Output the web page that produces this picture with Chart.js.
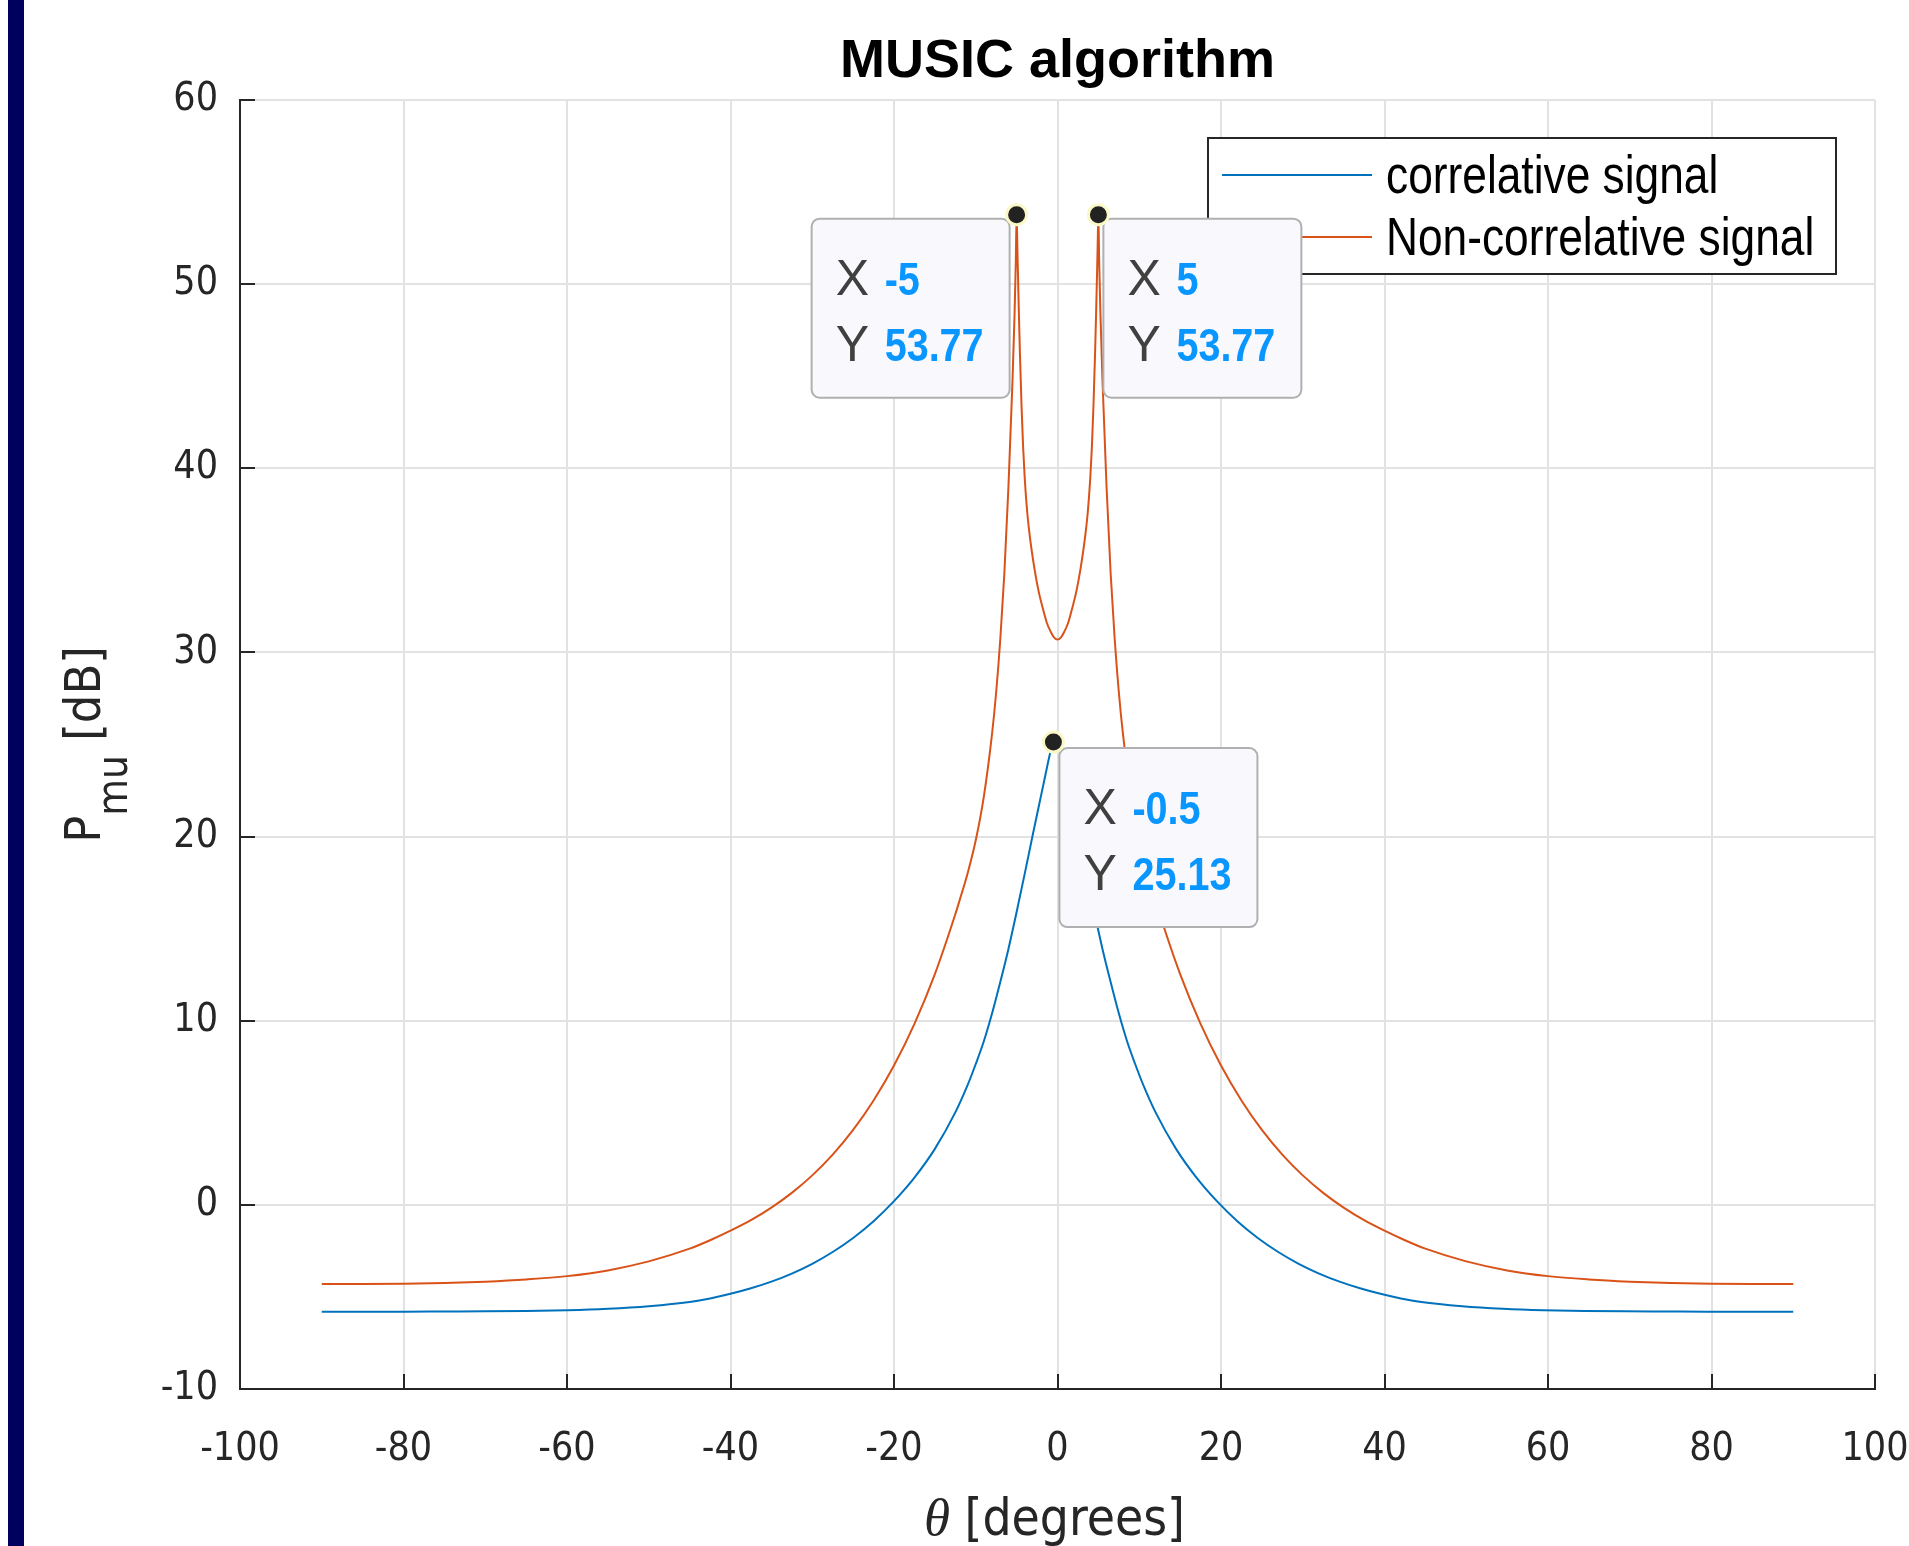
<!DOCTYPE html>
<html><head><meta charset="utf-8">
<script src="https://cdn.jsdelivr.net/npm/chart.js@4.4.1/dist/chart.umd.min.js"></script>
<style>
html,body{margin:0;padding:0;background:#fff;}
#wrap{position:relative;width:1909px;height:1546px;overflow:hidden;background:#fff;}
#bar{position:absolute;left:8px;top:0;width:16px;height:1546px;background:#00005f;}
canvas{position:absolute;left:0;top:0;}
</style></head><body>
<div id="wrap"><canvas id="c" width="1909" height="1546"></canvas><div id="bar"></div></div>
<script>
// ---- data ----
const seriesNames = ['correlative signal', 'Non-correlative signal'];
const thetaCorr = [-90,-85,-80,-75,-70,-65,-60,-55,-50,-45,-42.5,-40,-37.5,-35,-32.5,-30,-27.5,-25,-22.5,-20,-17.5,-15,-12.5,-11,-10,-9,-8,-7,-6,-5,-4,-3,-2,-1.5,-1,-0.75,-0.5,
  0.25,0.5,1,1.5,2.5,3.5,4.5,5.5,6.5,7.5,8.5,9.5,10.5,12,14.5,17,19.5,22,24.5,27,29.5,32,34.5,37,39.5,42,44.5,49.5,54.5,59.5,64.5,69.5,74.5,79.5,84.5,90];
const pCorr = [-5.80,-5.80,-5.80,-5.79,-5.78,-5.76,-5.72,-5.64,-5.50,-5.27,-5.08,-4.83,-4.53,-4.17,-3.73,-3.20,-2.56,-1.80,-0.89,0.20,1.48,3.04,5.02,6.50,7.65,8.90,10.40,12.10,13.90,15.90,18.00,20.15,22.25,23.30,24.35,24.80,25.13,
  24.80,24.35,23.30,22.25,20.15,18.00,15.90,13.90,12.10,10.40,8.90,7.65,6.50,5.02,3.04,1.48,0.20,-0.89,-1.80,-2.56,-3.20,-3.73,-4.17,-4.53,-4.83,-5.08,-5.27,-5.50,-5.64,-5.72,-5.76,-5.78,-5.79,-5.80,-5.80,-5.80];
const thetaNon = [-90,-85,-80,-75,-70,-65,-60,-55,-50,-45,-42.5,-40,-37.5,-35,-32.5,-30,-27.5,-25,-22.5,-20,-17.5,-15,-12.5,-12,-11,-10,-9,-8,-7.5,-7,-6.5,-6,-5.5,-5.25,-5.1,-5,
  -4.9,-4.75,-4.6,-4.4,-4.2,-4,-3.7,-3.3,-2.8,-2.3,-1.8,-1.3,-0.8,-0.4,0,
  0.4,0.8,1.3,1.8,2.3,2.8,3.3,3.7,4,4.2,4.4,4.6,4.75,4.9,5,5.1,5.25,5.5,6,6.5,7,7.5,8,9,10,11,12,12.5,15,17.5,20,22.5,25,27.5,30,32.5,35,37.5,40,42.5,45,50,55,60,65,70,75,80,85,90];
const pNon = [-4.30,-4.30,-4.29,-4.25,-4.17,-4.05,-3.87,-3.56,-3.07,-2.38,-1.92,-1.40,-0.83,-0.15,0.65,1.60,2.73,4.07,5.67,7.57,9.83,12.53,15.78,16.50,18.00,19.80,22.20,25.60,27.85,30.70,34.30,39.00,44.80,48.40,51.20,53.77,
  51.80,48.90,46.30,43.40,41.10,39.40,37.60,36.00,34.50,33.30,32.40,31.60,31.10,30.80,30.70,
  30.80,31.10,31.60,32.40,33.30,34.50,36.00,37.60,39.40,41.10,43.40,46.30,48.90,51.80,53.77,51.20,48.40,44.80,39.00,34.30,30.70,27.85,25.60,22.20,19.80,18.00,16.50,15.78,12.53,9.83,7.57,5.67,4.07,2.73,1.60,0.65,-0.15,-0.83,-1.40,-1.92,-2.38,-3.07,-3.56,-3.87,-4.05,-4.17,-4.25,-4.29,-4.30,-4.30];
const xTickMin = -100, xTickMax = 100, xTickStep = 20;
const yTickMin = -10, yTickMax = 60, yTickStep = 10;
const tipX = [-5, 5, -0.5];
const tipY = [53.77, 53.77, 25.13];
const titleText = 'MUSIC algorithm';
const xTitleSymbol = 'θ', xTitleText = ' [degrees]';
const yTitleMain = 'P', yTitleSub = 'mu', yTitleRest = ' [dB]';

// ---- styles / layout ----
const BLUE = '#0072BD', ORANGE = '#D95319', AXIS = '#262626';
const tickFont = '"DejaVu Sans Condensed", "DejaVu Sans", sans-serif';
const sansFont = '"Liberation Sans", Arial, sans-serif';
const tipLayout = [{side:'left', dx:-7, dy:4}, {side:'right', dx:5, dy:4}, {side:'right', dx:6, dy:6}];

function toPts(xs, ys){ return xs.map((v,i)=>({x:v, y:ys[i]})); }

function rrect(ctx, x, y, w, h, r){
  ctx.beginPath();
  ctx.moveTo(x+r, y); ctx.lineTo(x+w-r, y); ctx.arcTo(x+w, y, x+w, y+r, r);
  ctx.lineTo(x+w, y+h-r); ctx.arcTo(x+w, y+h, x+w-r, y+h, r);
  ctx.lineTo(x+r, y+h); ctx.arcTo(x, y+h, x, y+h-r, r);
  ctx.lineTo(x, y+r); ctx.arcTo(x, y, x+r, y, r); ctx.closePath();
}
function narrowText(ctx, s, x, y, sx){
  ctx.save(); ctx.translate(x, y); ctx.scale(sx, 1); ctx.fillText(s, 0, 0); ctx.restore();
}

const decor = {
  id: 'decor',
  afterDraw(chart){
    const {ctx, chartArea:a, scales:{x, y}} = chart;
    ctx.save();
    // inward tick marks
    ctx.strokeStyle = AXIS; ctx.lineWidth = 2;
    x.ticks.forEach(t => { const p = Math.round(x.getPixelForValue(t.value)); ctx.beginPath(); ctx.moveTo(p, a.bottom); ctx.lineTo(p, a.bottom - 15); ctx.stroke(); });
    y.ticks.forEach(t => { const p = Math.round(y.getPixelForValue(t.value)); ctx.beginPath(); ctx.moveTo(a.left, p); ctx.lineTo(a.left + 15, p); ctx.stroke(); });

    // title
    const cx = (a.left + a.right) / 2;
    ctx.fillStyle = '#000'; ctx.textAlign = 'center'; ctx.textBaseline = 'alphabetic';
    ctx.font = 'bold 54px ' + sansFont;
    ctx.fillText(titleText, cx, 77);

    // x title
    ctx.fillStyle = AXIS;
    ctx.font = 'italic 53px "Liberation Serif", serif';
    const wS = ctx.measureText(xTitleSymbol).width;
    ctx.font = '51px ' + tickFont;
    const wT = ctx.measureText(xTitleText).width;
    const sx = cx - (wS + wT) / 2 - 3;
    ctx.textAlign = 'left';
    ctx.font = 'italic 53px "Liberation Serif", serif'; ctx.fillText(xTitleSymbol, sx, 1535);
    ctx.font = '51px ' + tickFont; ctx.fillText(xTitleText, sx + wS, 1535);

    // y title (rotated)
    ctx.font = '50px ' + tickFont; const wP = ctx.measureText(yTitleMain).width; const wR = ctx.measureText(yTitleRest).width;
    ctx.font = '42px ' + tickFont; const wM = ctx.measureText(yTitleSub).width;
    const tot = wP + wM + wR;
    const cy = (a.top + a.bottom) / 2;
    ctx.save();
    ctx.translate(100, cy + tot / 2);
    ctx.rotate(-Math.PI / 2);
    ctx.textAlign = 'left';
    ctx.font = '50px ' + tickFont; ctx.fillText(yTitleMain, 0, 0);
    ctx.font = '42px ' + tickFont; ctx.fillText(yTitleSub, wP, 27);
    ctx.font = '50px ' + tickFont; ctx.fillText(yTitleRest, wP + wM, 0);
    ctx.restore();

    // legend
    const lx = 1208, ly = 138, lw = 628, lh = 136;
    ctx.fillStyle = '#fff'; ctx.fillRect(lx, ly, lw, lh);
    ctx.strokeStyle = AXIS; ctx.lineWidth = 2; ctx.strokeRect(lx, ly, lw, lh);
    const rowY = [175, 237];
    const cols = [BLUE, ORANGE];
    ctx.font = '54px ' + sansFont; ctx.textAlign = 'left'; ctx.textBaseline = 'alphabetic';
    seriesNames.forEach((n, i) => {
      ctx.strokeStyle = cols[i]; ctx.lineWidth = 2;
      ctx.beginPath(); ctx.moveTo(lx + 14, rowY[i]); ctx.lineTo(lx + 164, rowY[i]); ctx.stroke();
      ctx.fillStyle = '#000'; narrowText(ctx, n, lx + 178, rowY[i] + 18, 0.82);
    });

    // data tips
    const W = 198, H = 179;
    const pts = tipX.map((tx, i) => ({px: x.getPixelForValue(tx), py: y.getPixelForValue(tipY[i])}));
    pts.forEach((p, i) => {
      const L = tipLayout[i];
      const bx = L.side === 'left' ? p.px + L.dx - W : p.px + L.dx;
      const by = p.py + L.dy;
      rrect(ctx, bx, by, W, H, 8);
      ctx.fillStyle = '#f9f9fd'; ctx.fill();
      ctx.strokeStyle = '#b0b0b0'; ctx.lineWidth = 2; ctx.stroke();
      ctx.textAlign = 'left'; ctx.textBaseline = 'alphabetic';
      ctx.fillStyle = '#404040'; ctx.font = '50px ' + sansFont;
      ctx.fillText('X', bx + 24, by + 76);
      ctx.fillText('Y', bx + 24, by + 142);
      ctx.fillStyle = '#0a96ff'; ctx.font = 'bold 46px ' + sansFont;
      narrowText(ctx, String(tipX[i]), bx + 73, by + 76, 0.86);
      narrowText(ctx, String(tipY[i]), bx + 73, by + 142, 0.86);
    });
    pts.forEach(p => {
      ctx.beginPath(); ctx.arc(p.px, p.py, 10, 0, Math.PI * 2);
      ctx.fillStyle = '#222'; ctx.fill();
      ctx.strokeStyle = '#fbf8c8'; ctx.lineWidth = 3; ctx.stroke();
    });
    ctx.restore();
  }
};

new Chart(document.getElementById('c'), {
  type: 'line',
  data: {
    datasets: [
      {label: seriesNames[0], data: toPts(thetaCorr, pCorr), borderColor: BLUE, borderWidth: 2, pointRadius: 0, cubicInterpolationMode: 'monotone', fill: false},
      {label: seriesNames[1], data: toPts(thetaNon, pNon), borderColor: ORANGE, borderWidth: 2, pointRadius: 0, cubicInterpolationMode: 'monotone', fill: false}
    ]
  },
  options: {
    responsive: false, animation: false, devicePixelRatio: 1,
    layout: {padding: {left: 0, top: 100, right: 34, bottom: 0}},
    plugins: {legend: {display: false}, title: {display: false}, tooltip: {enabled: false}},
    scales: {
      x: {
        type: 'linear', min: xTickMin, max: xTickMax,
        ticks: {stepSize: xTickStep, color: AXIS, font: {family: tickFont, size: 39}, padding: 37, maxRotation: 0, autoSkip: false},
        grid: {color: '#e2e2e2', lineWidth: 2, drawTicks: false},
        border: {display: true, color: AXIS, width: 2},
        afterFit: s => { s.height = 157; s.paddingLeft = 0; s.paddingRight = 0; }
      },
      y: {
        type: 'linear', min: yTickMin, max: yTickMax,
        ticks: {stepSize: yTickStep, color: AXIS, font: {family: tickFont, size: 39}, padding: 22, autoSkip: false},
        grid: {color: '#e2e2e2', lineWidth: 2, drawTicks: false},
        border: {display: true, color: AXIS, width: 2},
        afterFit: s => { s.width = 240; s.paddingTop = 0; s.paddingBottom = 0; }
      }
    }
  },
  plugins: [decor]
});
</script>
</body></html>
